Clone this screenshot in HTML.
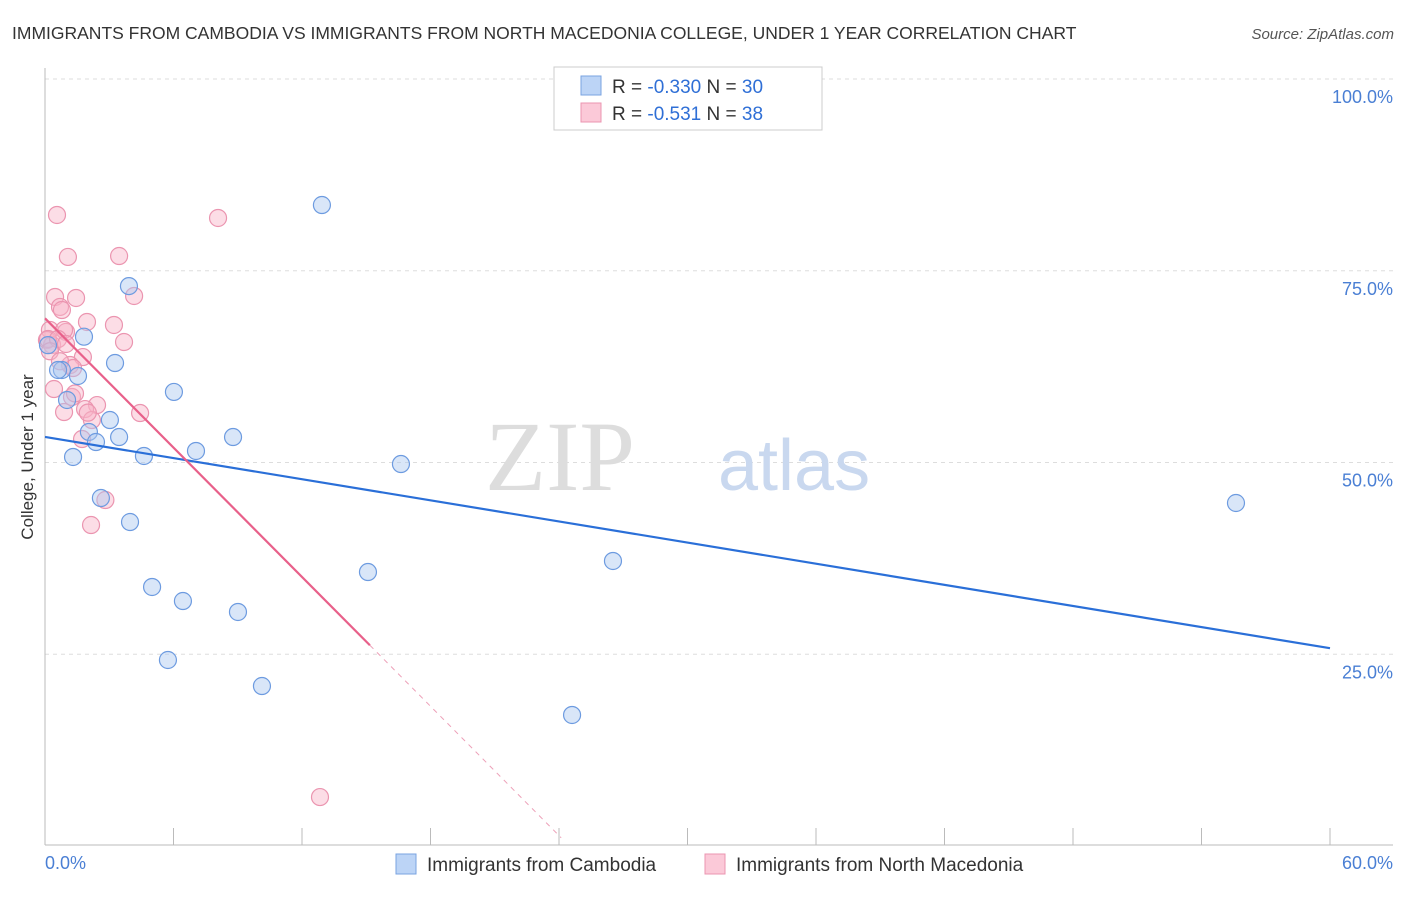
<!DOCTYPE html>
<html><head><meta charset="utf-8"><style>
body{margin:0;background:#fff;font-family:"Liberation Sans",sans-serif}
</style></head><body>
<svg width="1406" height="892" xmlns="http://www.w3.org/2000/svg" font-family="Liberation Sans, sans-serif">
<text x="12" y="39" font-size="17.5" fill="#333">IMMIGRANTS FROM CAMBODIA VS IMMIGRANTS FROM NORTH MACEDONIA COLLEGE, UNDER 1 YEAR CORRELATION CHART</text>
<text x="1394" y="39" font-size="15" fill="#555" font-style="italic" text-anchor="end">Source: ZipAtlas.com</text>
<g id="grid"></g>
<text x="635" y="490" font-size="100" fill="#ddd" text-anchor="end" font-family="Liberation Serif, serif">ZIP</text>
<text x="718" y="490" font-size="72" fill="#c9d8ef">atlas</text>
<line x1="45" y1="68" x2="45" y2="845" stroke="#bbb"/>
<line x1="45" y1="845" x2="1393" y2="845" stroke="#bbb"/>
<text transform="translate(33,457) rotate(-90)" font-size="17" fill="#333" text-anchor="middle">College, Under 1 year</text>
<text x="45" y="869" font-size="18" fill="#4a7fd4">0.0%</text>
<text x="1393" y="869" font-size="18" fill="#4a7fd4" text-anchor="end">60.0%</text>
<g id="pts"></g>
<g id="lines"></g>
<rect x="554" y="67" width="268" height="63" fill="#fff" stroke="#ccc"/>
<rect x="581" y="76" width="20" height="19" fill="#bcd4f6" stroke="#7aa3e0"/>
<rect x="581" y="103" width="20" height="19" fill="#fbc9d8" stroke="#eb95b0"/>
<text x="612" y="93" font-size="19" fill="#333">R = <tspan fill="#2f6fd6">-0.330</tspan>    N = <tspan fill="#2f6fd6">30</tspan></text>
<text x="612" y="120" font-size="19" fill="#333">R =  <tspan fill="#2f6fd6">-0.531</tspan>    N =  <tspan fill="#2f6fd6">38</tspan></text>
<rect x="396" y="854" width="20" height="20" fill="#bcd4f6" stroke="#7aa3e0"/>
<text x="427" y="871" font-size="19" fill="#333">Immigrants from Cambodia</text>
<rect x="705" y="854" width="20" height="20" fill="#fbc9d8" stroke="#eb95b0"/>
<text x="736" y="871" font-size="19" fill="#333">Immigrants from North Macedonia</text>
</svg>
<script>
const yTicks=[25,50,75,100];
const yTickLabels=["25.0%","50.0%","75.0%","100.0%"];
const xTicks=[0,6,12,18,24,30,36,42,48,54,60];
const blueX=[12.93,3.92,1.82,3.27,0.79,1.54,6.02,1.03,3.03,2.05,3.46,2.38,8.78,7.05,4.62,1.31,16.62,2.61,3.97,55.61,26.52,15.08,5.0,6.44,9.01,5.74,10.13,24.61,0.14,0.61];
const blueY=[83.57,73.0,66.4,62.97,62.06,61.28,59.2,58.15,55.54,53.98,53.32,52.67,53.32,51.5,50.85,50.72,49.8,45.37,42.24,44.72,37.16,35.72,33.77,31.94,30.51,24.25,20.86,17.08,65.3,62.06];
const pinkX=[0.56,8.08,1.07,3.46,0.47,1.45,4.16,0.7,0.79,1.96,3.22,0.23,0.98,0.89,0.09,3.69,0.33,1.77,1.17,1.31,0.42,1.26,2.43,1.87,4.44,0.89,2.19,1.73,2.82,2.15,12.84,0.14,0.61,0.98,1.4,0.23,0.7,2.0];
const pinkY=[82.27,81.88,76.8,76.92,71.58,71.45,71.71,70.28,69.88,68.32,67.93,67.28,67.02,67.28,65.97,65.71,65.32,63.75,62.71,62.32,59.58,58.54,57.49,56.97,56.45,56.58,55.54,53.06,45.11,41.85,6.38,66.1,66.1,65.45,59.0,64.5,63.2,56.5];
const blueFit=[53.33,-0.459];
const pinkFit=[68.8,-2.81];
const pinkSolidEnd=15.17, pinkDashEnd=24.1;
const X=v=>45+v/60*1285, Y=v=>846-v/100*767;
const NS="http://www.w3.org/2000/svg";
function mk(t,a,p){const e=document.createElementNS(NS,t);for(const k in a)e.setAttribute(k,a[k]);p.appendChild(e);return e;}
const g=document.getElementById('grid');
yTicks.forEach((t,i)=>{
 const l=mk('line',{x1:45,x2:1393,y1:Y(t),y2:Y(t),stroke:'#ddd','stroke-dasharray':'4,4'},g);
 
 
 const tx=mk('text',{x:1393,y:Y(t)+24,'font-size':18,fill:'#4a7fd4','text-anchor':'end'},g);
 tx.textContent=yTickLabels[i];
 
 
});
xTicks.forEach(t=>{
 const l=mk('line',{x1:X(t),x2:X(t),y1:828,y2:845,stroke:'#bbb'},g);
 
 
});
const p=document.getElementById('pts');
pinkX.forEach((x,i)=>{
 const c=mk('circle',{cx:X(x),cy:Y(pinkY[i]),r:8.5,fill:'rgba(248,180,200,0.45)',stroke:'#eb95b0','stroke-width':1.2},p);
 
 
});
blueX.forEach((x,i)=>{
 const c=mk('circle',{cx:X(x),cy:Y(blueY[i]),r:8.5,fill:'rgba(170,200,240,0.45)',stroke:'#6d9be0','stroke-width':1.2},p);
 
 
});
const L=document.getElementById('lines');
const b=mk('line',{x1:X(0),y1:Y(blueFit[0]),x2:X(60),y2:Y(blueFit[0]+blueFit[1]*60),stroke:'#2a6fd8','stroke-width':2.2},L);


const pk=mk('line',{x1:X(0),y1:Y(pinkFit[0]),x2:X(pinkSolidEnd),y2:Y(pinkFit[0]+pinkFit[1]*pinkSolidEnd),stroke:'#e8608a','stroke-width':2.2},L);


const pd=mk('line',{x1:X(pinkSolidEnd),y1:Y(pinkFit[0]+pinkFit[1]*pinkSolidEnd),x2:X(pinkDashEnd),y2:Y(pinkFit[0]+pinkFit[1]*pinkDashEnd),stroke:'#eda0b8','stroke-width':1,'stroke-dasharray':'5,5'},L);


</script>
</body></html>
